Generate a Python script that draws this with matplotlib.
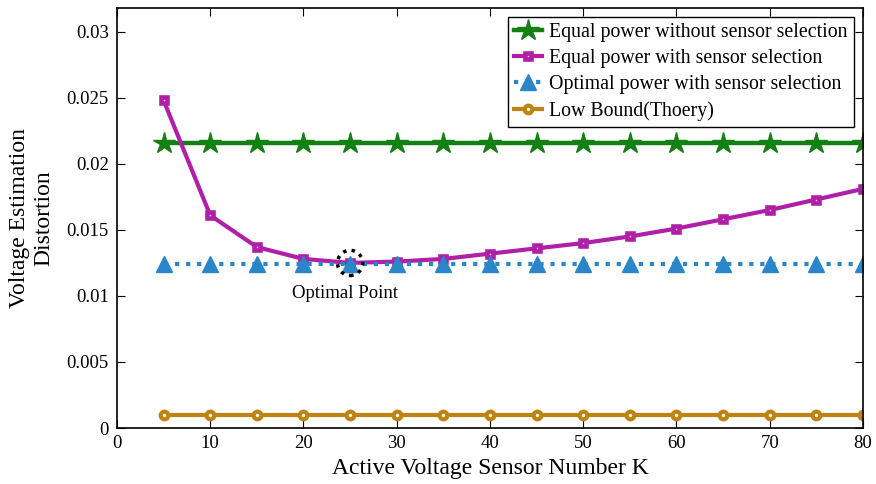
import matplotlib.pyplot as plt

plt.rcParams['font.family'] = ['Liberation Serif', 'DejaVu Serif']

K = [5, 10, 15, 20, 25, 30, 35, 40, 45, 50, 55, 60, 65, 70, 75, 80]
equal_no_sel = [0.0216] * 16
equal_sel = [0.0248, 0.0161, 0.0137, 0.0128, 0.0125, 0.0126, 0.0128, 0.0132,
             0.0136, 0.0140, 0.0145, 0.0151, 0.0158, 0.0165, 0.0173, 0.0181]
optimal_sel = [0.0124] * 16
low_bound = [0.001] * 16

opt_k = 25
opt_val = 0.0125

fig = plt.figure(figsize=(8.76, 4.84), dpi=100)
ax = fig.add_axes([0.1336, 0.1157, 0.8514, 0.8678])

ax.plot(K, equal_no_sel, color='#138013', lw=3.2, marker='*', ms=16,
        label='Equal power without sensor selection')
ax.plot(K, equal_sel, color='#b01fa8', lw=3, marker='s', ms=5, mfc='#f3e0f1',
        mew=3.3, label='Equal power with sensor selection')
ax.plot(K, optimal_sel, color='#2a86c8', lw=3, ls=':', marker='^', ms=11,
        label='Optimal power with sensor selection')
ax.plot(K, low_bound, color='#bf8410', lw=3, marker='o', ms=5.5, mfc='white',
        mew=3, label='Low Bound(Thoery)')

# dotted circle around the optimal point
ax.scatter([opt_k], [opt_val], s=330, facecolors='none', edgecolors='black',
           linewidths=2.5, linestyle=(0, (1, 1.5)), zorder=5)
ax.annotate('Optimal Point', (24.5, 0.0102), ha='center', va='center',
            fontsize=13.5)

ax.set_xlim(0, 80)
ax.set_ylim(0, 0.0318)
ax.set_xticks(range(0, 81, 10))
ax.set_yticks([0, 0.005, 0.01, 0.015, 0.02, 0.025, 0.03])
ax.set_yticklabels(['0', '0.005', '0.01', '0.015', '0.02', '0.025', '0.03'])
ax.tick_params(direction='in', top=True, right=True, labelsize=13.5, length=6)
ax.tick_params(axis='y', pad=6)
ax.tick_params(axis='x', pad=5)
for s in ax.spines.values():
    s.set_linewidth(1.2)

ax.set_xlabel('Active Voltage Sensor Number K', fontsize=17, labelpad=4)
ax.set_ylabel('Voltage Estimation\nDistortion', fontsize=17, labelpad=9)

leg = ax.legend(loc='upper right', fontsize=14.3, fancybox=False,
                edgecolor='black', framealpha=1, handlelength=1.4,
                borderpad=0.3, labelspacing=0.36, handletextpad=0.4,
                borderaxespad=0.45)
leg.get_frame().set_linewidth(1.0)

fig.savefig('out.png', dpi=100)
